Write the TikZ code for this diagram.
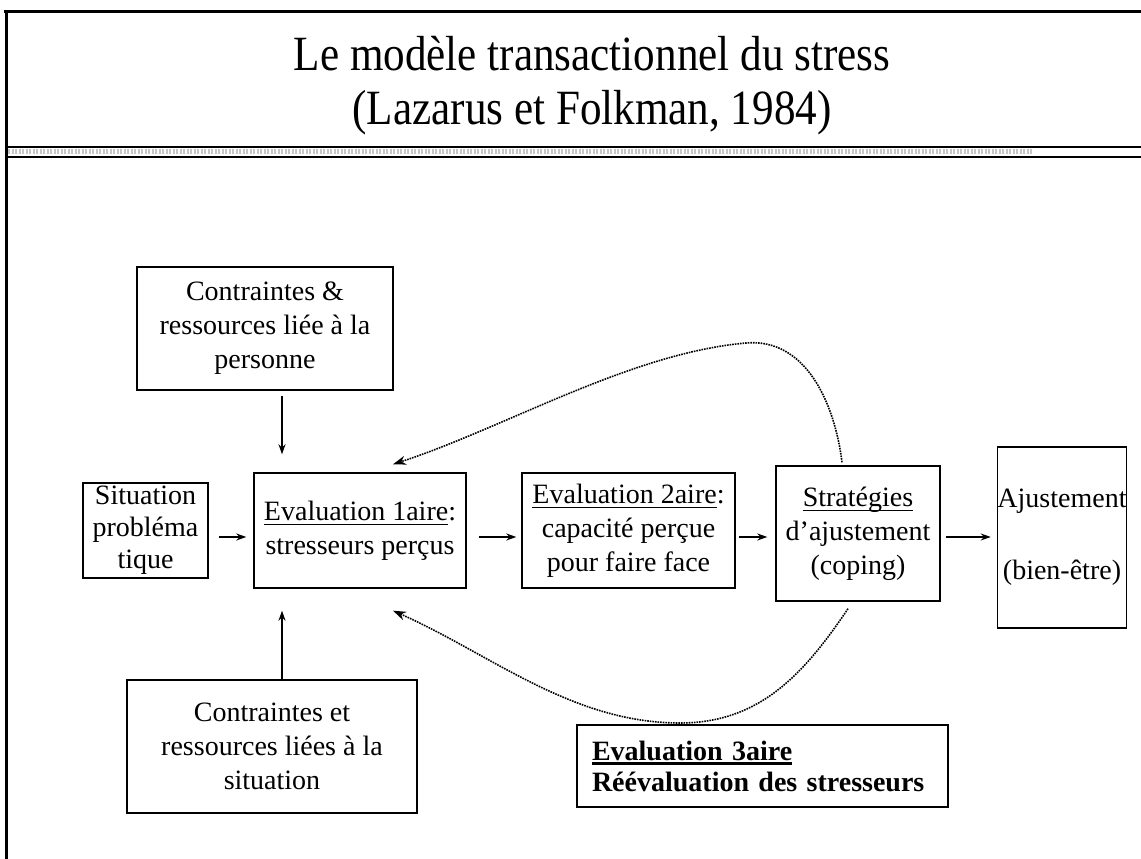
\documentclass[tikz,border=0pt]{standalone}
\usepackage{fontspec}
\setmainfont{Liberation Serif}
\newlength{\ulwd}
\newcommand{\uln}[2][1.4pt]{\settowidth{\ulwd}{#2}\rlap{\rule[-5pt]{\ulwd}{#1}}#2}
\usetikzlibrary{arrows.meta, positioning}
\tikzstyle{heading} = [font=\fontsize{44}{48}\selectfont, inner sep=0pt]
\tikzstyle{box} = [rectangle, draw=black, line width=1.4pt, align=center, inner sep=2pt, font=\fontsize{28}{34}\selectfont]
\tikzstyle{arrow} = [line width=1.3pt, ->, >={Stealth[length=10pt, width=7pt]}]
\tikzstyle{loop} = [line width=1.6pt, densely dotted, ->, >={Stealth[length=13pt, width=9pt]}]
\begin{document}
\begin{tikzpicture}[x=1pt, y=1pt, node distance=230pt]
\useasboundingbox (0,0) rectangle (1141,859);

% frame and title
\draw [line width=3pt] (4,847) -- (1141,847);
\draw [line width=3pt] (6,848.5) -- (6,0);
\draw [line width=2pt] (6,712) -- (1141,712);
\draw [line width=2pt] (6,702) -- (1141,702);
\draw [gray!45, line width=5pt, dash pattern=on 2pt off 1.5pt] (8,707) -- (1033,707);
\node (title) [heading] at (592,805) {\scalebox{0.98}[1.12]{Le modèle transactionnel du stress}};
\node (source) [heading] at (592,746) {\scalebox{0.98}[1.12]{(Lazarus et Folkman, 1984)}};

\node (eval1) [box, minimum width=212pt, minimum height=115pt] at (360,328.5) {\uln{Evaluation 1aire}:\\stresseurs perçus};
\node (sit) [box, left of=eval1, xshift=15.5pt, minimum width=125pt, minimum height=95pt, inner sep=0pt, font=\fontsize{28}{32}\selectfont] {Situation\\probléma\\tique};
\node (eval2) [box, right of=eval1, xshift=38.5pt, minimum width=213pt, minimum height=115pt] {\uln{Evaluation 2aire}:\\capacité perçue\\pour faire face};
\node (strat) [box, right of=eval2, xshift=-0.5pt, yshift=-3pt, minimum width=164pt, minimum height=135pt] {\uln{Stratégies}\\d’ajustement\\(coping)};
\node (ajust) [box, right of=strat, xshift=-26pt, yshift=-4pt, minimum width=126pt, minimum height=181pt, inner sep=0pt] {Ajustement\\[38pt](bien-être)};

% constraints
\node (pers) [box, above of=eval1, xshift=-95pt, yshift=-28pt, minimum width=256pt, minimum height=123pt] {Contraintes \&\\ressources liée à la\\personne};
\node (situ) [box, below of=eval1, xshift=-88pt, yshift=14pt, minimum width=290pt, minimum height=133pt] {Contraintes et\\ressources liées à la\\situation};

% reappraisal
\node (eval3) [box, below of=strat, xshift=-95.5pt, yshift=-2.5pt, text width=341pt, inner xsep=15pt, minimum height=82pt, align=left, font=\bfseries\fontsize{28}{31}\selectfont] {\uln[2.6pt]{Evaluation 3aire}\\Réévaluation des stresseurs};

\draw [arrow, shorten <=10pt, shorten >=7pt] ([yshift=-6.5pt]sit.east) -- ([yshift=-6.5pt]eval1.west);
\draw [arrow, shorten <=12pt, shorten >=5pt] ([yshift=-6.5pt]eval1.east) -- ([yshift=-6.5pt]eval2.west);
\draw [arrow, shorten <=3pt, shorten >=8pt] ([yshift=-6.5pt]eval2.east) -- ([yshift=-3.5pt]strat.west);
\draw [arrow, shorten <=5pt, shorten >=6pt] ([yshift=-3.5pt]strat.east) -- ([yshift=0.5pt]ajust.west);
\draw [arrow, shorten <=5pt, shorten >=18pt] ([xshift=17pt]pers.south) -- ([xshift=17pt]pers.south |- eval1.north);
\draw [arrow, shorten >=22pt] ([xshift=10pt]situ.north) -- ([xshift=10pt]situ.north |- eval1.south);

% feedback loops
\coordinate (crest) at (746,516);
\coordinate (trough) at (680,136);
\draw [loop] ([xshift=-16pt, yshift=3pt]strat.north) to[out=97, in=5] (crest) to[out=185, in=18, looseness=0.8] ([xshift=33pt, yshift=8pt]eval1.north);
\draw [loop] ([xshift=-10pt, yshift=-7pt]strat.south) to[out=236, in=0] (trough) to[out=180, in=-24, looseness=0.9] ([xshift=33pt, yshift=-22pt]eval1.south);

\end{tikzpicture}
\end{document}
